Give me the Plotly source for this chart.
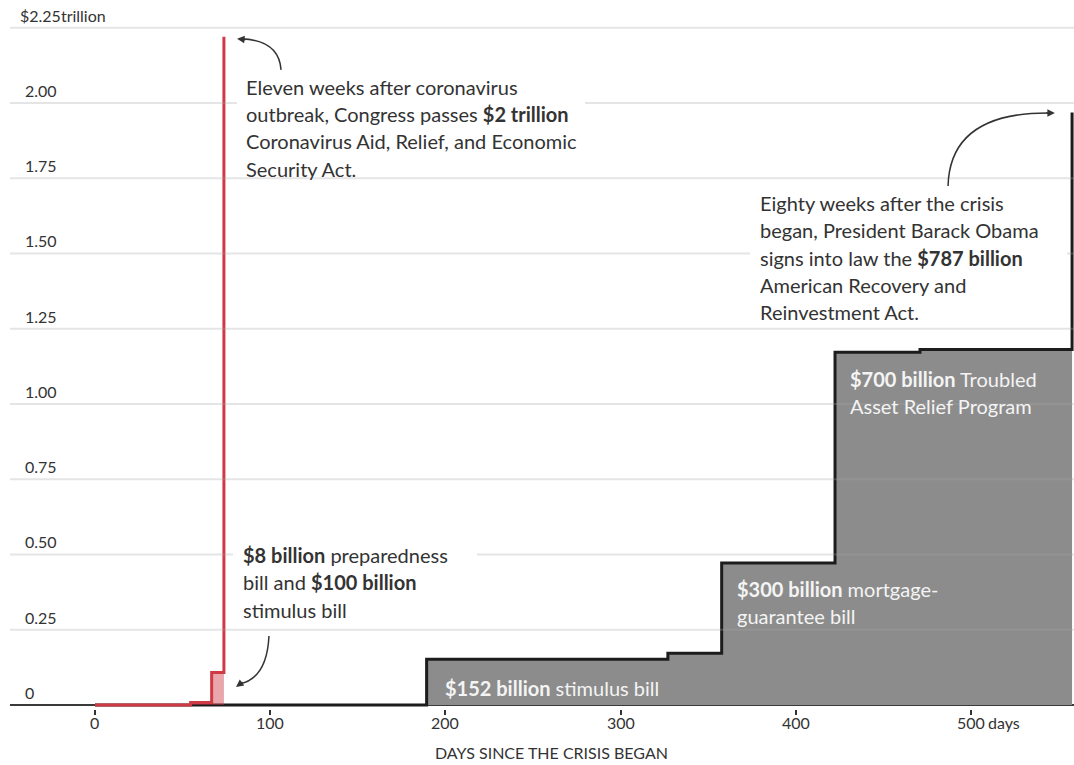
import plotly.graph_objects as go

# Cumulative federal response, trillions of dollars, by days since each crisis began
covid_days = [0, 54.6, 66.6, 73.6]
covid_totals = [0, 0.008, 0.108, 2.22]

gfc_days = [0, 189.3, 327, 357.7, 422.4, 470.9, 557.7]
gfc_totals = [0, 0.152, 0.172, 0.472, 1.172, 1.181, 1.968]

x_ticks = [0, 100, 200, 300, 400, 500]
y_ticks = [0.25, 0.5, 0.75, 1.0, 1.25, 1.5, 1.75, 2.0, 2.25]
y_tick_text = ["0.25", "0.50", "0.75", "1.00", "1.25", "1.50", "1.75", "2.00", "$2.25trillion"]

FONT = "Lato"
RED = "#cf3a45"
INK = "#333333"
LINE_STEP = 0.0907  # vertical spacing of note lines, in trillions

fig = go.Figure()

fig.add_trace(go.Scatter(
    x=gfc_days, y=gfc_totals, mode="lines", line_shape="hv",
    line=dict(color="#1c1c1c", width=3), fill="tozeroy", fillcolor="#8c8c8c",
    hoverinfo="skip", showlegend=False,
))
fig.add_trace(go.Scatter(
    x=covid_days, y=covid_totals, mode="lines", line_shape="hv",
    line=dict(color=RED, width=3), fill="tozeroy", fillcolor="rgba(207,58,69,0.45)",
    hoverinfo="skip", showlegend=False,
))

shapes = []
# baseline
shapes.append(dict(type="line", xref="paper", yref="y", x0=0, x1=1, y0=0, y1=0,
                   line=dict(color="#3a3a3a", width=2), layer="below"))
# gridlines sit on top of the fills, faintly
for v in y_ticks:
    shapes.append(dict(type="line", xref="paper", yref="y", x0=0, x1=1, y0=v, y1=v,
                       line=dict(color="rgba(166,166,166,0.29)", width=2), layer="above"))
# white panels behind the notes
for (x0, x1, y0, y1) in [(81.05, 279.7, 1.764, 2.103),
                         (373.9, 554.8, 1.272, 1.711),
                         (78.8, 218.0, 0.276, 0.548)]:
    shapes.append(dict(type="rect", xref="x", yref="y", x0=x0, x1=x1, y0=y0, y1=y1,
                       fillcolor="white", line=dict(width=0), layer="above"))

# curved leader lines
curves = [
    "M 106.2,2.110 Q 105.0,2.209 83.3,2.213",
    "M 99.3,0.229 Q 98.2,0.090 82.8,0.070",
    "M 486.9,1.724 Q 488.0,1.970 545.1,1.967",
]
for p in curves:
    shapes.append(dict(type="path", xref="x", yref="y", path=p,
                       line=dict(color=INK, width=1.5), layer="above"))

annotations = []
tick_font = dict(family=FONT, size=16, color=INK)
for v, t in zip(y_ticks, y_tick_text):
    annotations.append(dict(xref="paper", yref="y", x=0, y=v, text=t, showarrow=False,
                            xanchor="left", yanchor="bottom", xshift=8 if "$" in t else 13,
                            yshift=1, font=tick_font))
annotations.append(dict(xref="paper", yref="y", x=0, y=0, text="0", showarrow=False,
                        xanchor="left", yanchor="bottom", xshift=13, yshift=1, font=tick_font))
for v in x_ticks:
    annotations.append(dict(xref="x", yref="paper", x=v, y=0, text=str(v), showarrow=False,
                            xanchor="center", yanchor="middle", yshift=-13, font=tick_font))
annotations.append(dict(xref="x", yref="paper", x=500, y=0, text="days", showarrow=False,
                        xanchor="left", yanchor="middle", xshift=15, yshift=-13, font=tick_font))
annotations.append(dict(xref="x", yref="paper", x=260.8, y=0, text="DAYS SINCE THE CRISIS BEGAN",
                        showarrow=False, xanchor="center", yanchor="middle", yshift=-43,
                        font=tick_font))

dark_note = dict(family=FONT, size=20, color=INK)
light_note = dict(family=FONT, size=20, color="#f4f4f4")

notes = [
    (86.2, 2.0542, dark_note, ["Eleven weeks after coronavirus",
                               "outbreak, Congress passes <b>$2 trillion</b>",
                               "Coronavirus Aid, Relief, and Economic",
                               "Security Act."]),
    (379.9, 1.6678, dark_note, ["Eighty weeks after the crisis",
                                "began, President Barack Obama",
                                "signs into law the <b>$787 billion</b>",
                                "American Recovery and",
                                "Reinvestment Act."]),
    (84.5, 0.4983, dark_note, ["<b>$8 billion</b> preparedness",
                               "bill and <b>$100 billion</b>",
                               "stimulus bill"]),
    (200.3, 0.0565, light_note, ["<b>$152 billion</b> stimulus bill"]),
    (367.0, 0.3854, light_note, ["<b>$300 billion</b> mortgage-", "guarantee bill"]),
    (431.5, 1.0831, light_note, ["<b>$700 billion</b> Troubled", "Asset Relief Program"]),
]
for x0, y0, f, lines in notes:
    for i, line in enumerate(lines):
        annotations.append(dict(xref="x", yref="y", x=x0, y=y0 - i * LINE_STEP, text=line,
                                xanchor="left", yanchor="middle", align="left", xshift=-2.5,
                                showarrow=False, font=f))

# arrowheads at the ends of the leader lines
for (tx, ty, ax, ay) in [(81.1, 2.213, 10, 1), (80.5, 0.060, 8, -6), (547.9, 1.967, -10, 0)]:
    annotations.append(dict(xref="x", yref="y", x=tx, y=ty, text="", showarrow=True,
                            ax=ax, ay=ay, arrowhead=2, arrowsize=1, arrowwidth=1.5,
                            arrowcolor=INK, standoff=0))

fig.update_layout(
    width=1074, height=765,
    margin=dict(l=10, r=0, t=25, b=56),
    paper_bgcolor="white", plot_bgcolor="white",
    font=dict(family=FONT, size=16, color=INK),
    shapes=shapes, annotations=annotations,
    xaxis=dict(range=[-48.5, 558.8], tickvals=x_ticks, showticklabels=False,
               ticks="outside", ticklen=5, tickwidth=2, tickcolor="#333333",
               showgrid=False, zeroline=False, showline=False),
    yaxis=dict(range=[-0.0133, 2.259], showgrid=False, zeroline=False, showline=False,
               showticklabels=False, ticks=""),
)

fig.write_html("out.html")
